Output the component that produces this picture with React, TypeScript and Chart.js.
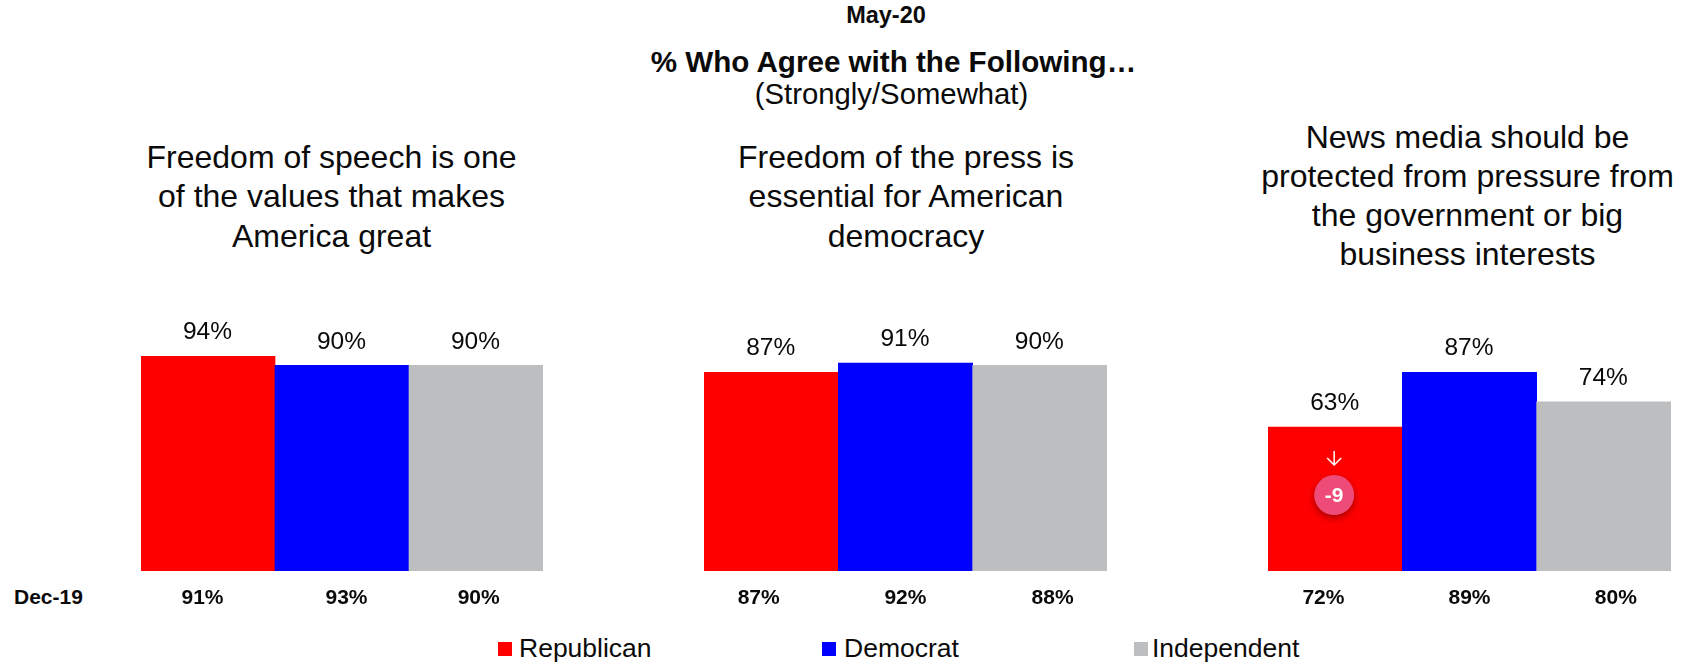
import React, { useEffect, useRef } from "react";
import { Chart, registerables } from "chart.js";

Chart.register(...registerables);

const FONT = '"Liberation Sans", Arial, sans-serif';

const parties = ["Republican", "Democrat", "Independent"];
const partyColors = ["#FF0000", "#0000FF", "#BDBEC0"];

const speechMay20 = [94, 90, 90];
const pressMay20 = [87, 91, 90];
const pressureMay20 = [63, 87, 74];

const speechDec19 = [91, 93, 90];
const pressDec19 = [87, 92, 88];
const pressureDec19 = [72, 89, 80];

const speechTitle = ["Freedom of speech is one", "of the values that makes", "America great"];
const pressTitle = ["Freedom of the press is", "essential for American", "democracy"];
const pressureTitle = [
  "News media should be",
  "protected from pressure from",
  "the government or big",
  "business interests",
];

const pressureChange = [-9, null, null];

const CANVAS_TOP = 300;
const CANVAS_HEIGHT = 311;
const PLOT_TOP = 42.5;
const AXIS_HEIGHT = 40;
const PANEL_WIDTH = 402;
const TEXT_COLOR = "#0A0A0A";

// Percent labels above each bar, plus the change badge inside flagged bars.
const barAnnotations = {
  id: "barAnnotations",
  afterDatasetsDraw(chart: any, _args: any, opts: any) {
    const { ctx } = chart;
    const bars = chart.getDatasetMeta(0).data;
    const values = chart.data.datasets[0].data as number[];
    ctx.save();
    ctx.textAlign = "center";
    ctx.textBaseline = "middle";
    bars.forEach((bar: any, i: number) => {
      ctx.font = `24.5px ${FONT}`;
      ctx.fillStyle = TEXT_COLOR;
      ctx.fillText(`${values[i]}%`, bar.x - 0.5, bar.y - 23.5);

      const change = opts.changes?.[i];
      if (change == null) return;
      const cx = bar.x - 1;
      const cy = bar.y + 68;

      ctx.strokeStyle = "#FFFFFF";
      ctx.lineWidth = 1.5;
      ctx.beginPath();
      ctx.moveTo(cx, cy - 44);
      ctx.lineTo(cx, cy - 30);
      ctx.moveTo(cx - 7, cy - 37);
      ctx.lineTo(cx, cy - 30);
      ctx.lineTo(cx + 7, cy - 37);
      ctx.stroke();

      ctx.save();
      ctx.shadowColor = "rgba(90,0,0,0.55)";
      ctx.shadowBlur = 7;
      ctx.shadowOffsetY = 3;
      ctx.fillStyle = "#EE4B78";
      ctx.beginPath();
      ctx.arc(cx, cy, 20, 0, Math.PI * 2);
      ctx.fill();
      ctx.restore();

      ctx.fillStyle = "#FFFFFF";
      ctx.font = `bold 21px ${FONT}`;
      ctx.fillText(String(change), cx, cy + 1.5);
    });
    ctx.restore();
  },
};

function Panel({
  left,
  width = PANEL_WIDTH,
  values,
  changes,
}: {
  left: number;
  width?: number;
  values: number[];
  changes?: (number | null)[];
}) {
  const ref = useRef<HTMLCanvasElement>(null);
  useEffect(() => {
    const chart = new Chart(ref.current!, {
      type: "bar",
      data: {
        labels: parties,
        datasets: [
          {
            data: values,
            backgroundColor: partyColors,
            barPercentage: 1,
            categoryPercentage: 1,
            borderWidth: 0,
          },
        ],
      },
      options: {
        animation: false,
        responsive: false,
        layout: { padding: { top: PLOT_TOP, left: 0, right: 0, bottom: AXIS_HEIGHT } },
        plugins: {
          legend: { display: false },
          tooltip: { enabled: false },
          barAnnotations: { changes },
        } as any,
        scales: {
          x: { display: false },
          y: { display: false, min: 0, max: 100 },
        },
      },
      plugins: [barAnnotations],
    });
    return () => chart.destroy();
  }, []);
  return (
    <canvas
      ref={ref}
      width={width}
      height={CANVAS_HEIGHT}
      style={{ position: "absolute", left, top: CANVAS_TOP, display: "block" }}
    />
  );
}

function Text({
  x,
  y,
  size,
  bold,
  children,
  align = "center",
}: {
  x: number;
  y: number;
  size: number;
  bold?: boolean;
  children: React.ReactNode;
  align?: "center" | "left";
}) {
  return (
    <div
      style={{
        position: "absolute",
        left: x,
        top: y,
        transform: align === "center" ? "translate(-50%, -50%)" : "translateY(-50%)",
        fontFamily: FONT,
        fontSize: size,
        fontWeight: bold ? 700 : 400,
        color: TEXT_COLOR,
        whiteSpace: "nowrap",
        lineHeight: 1.2,
      }}
    >
      {children}
    </div>
  );
}

function TitleBlock({ x, firstY, pitch, lines }: { x: number; firstY: number; pitch: number; lines: string[] }) {
  return (
    <>
      {lines.map((line, i) => (
        <Text key={line} x={x} y={firstY + i * pitch} size={32}>
          {line}
        </Text>
      ))}
    </>
  );
}

// The December row sits in its own columns, a little wider apart than the bars.
function PriorRow({ columns, values }: { columns: number[]; values: number[] }) {
  return (
    <>
      {values.map((v, i) => (
        <Text key={i} x={columns[i]} y={596.5} size={21} bold>
          {`${v}%`}
        </Text>
      ))}
    </>
  );
}

const legendItems = [
  { square: 498, text: 519 },
  { square: 822, text: 844 },
  { square: 1134, text: 1152 },
];

export default function App() {
  return (
    <div style={{ position: "absolute", left: 0, top: 0, width: 1685, height: 663, overflow: "hidden", background: "#FFFFFF" }}>
      <Text x={886} y={15} size={23.5} bold>May-20</Text>
      <Text x={893.5} y={62} size={29.6} bold>% Who Agree with the Following…</Text>
      <Text x={891.5} y={94} size={29.3}>(Strongly/Somewhat)</Text>

      <TitleBlock x={331.5} firstY={157} pitch={39.4} lines={speechTitle} />
      <TitleBlock x={906} firstY={157} pitch={39.4} lines={pressTitle} />
      <TitleBlock x={1467.5} firstY={136.5} pitch={39.1} lines={pressureTitle} />

      <Panel left={141} values={speechMay20} />
      <Panel left={704} width={403} values={pressMay20} />
      <Panel left={1268} width={403} values={pressureMay20} changes={pressureChange} />

      <Text x={14} y={596.5} size={21} bold align="left">Dec-19</Text>
      <PriorRow columns={[202.5, 346.5, 478.7]} values={speechDec19} />
      <PriorRow columns={[758.7, 905.4, 1052.6]} values={pressDec19} />
      <PriorRow columns={[1323.4, 1469.5, 1615.8]} values={pressureDec19} />

      {parties.map((party, i) => (
        <React.Fragment key={party}>
          <div
            style={{
              position: "absolute",
              left: legendItems[i].square,
              top: 642,
              width: 14,
              height: 14,
              background: partyColors[i],
            }}
          />
          <Text x={legendItems[i].text} y={649} size={26.5} align="left">{party}</Text>
        </React.Fragment>
      ))}
    </div>
  );
}
